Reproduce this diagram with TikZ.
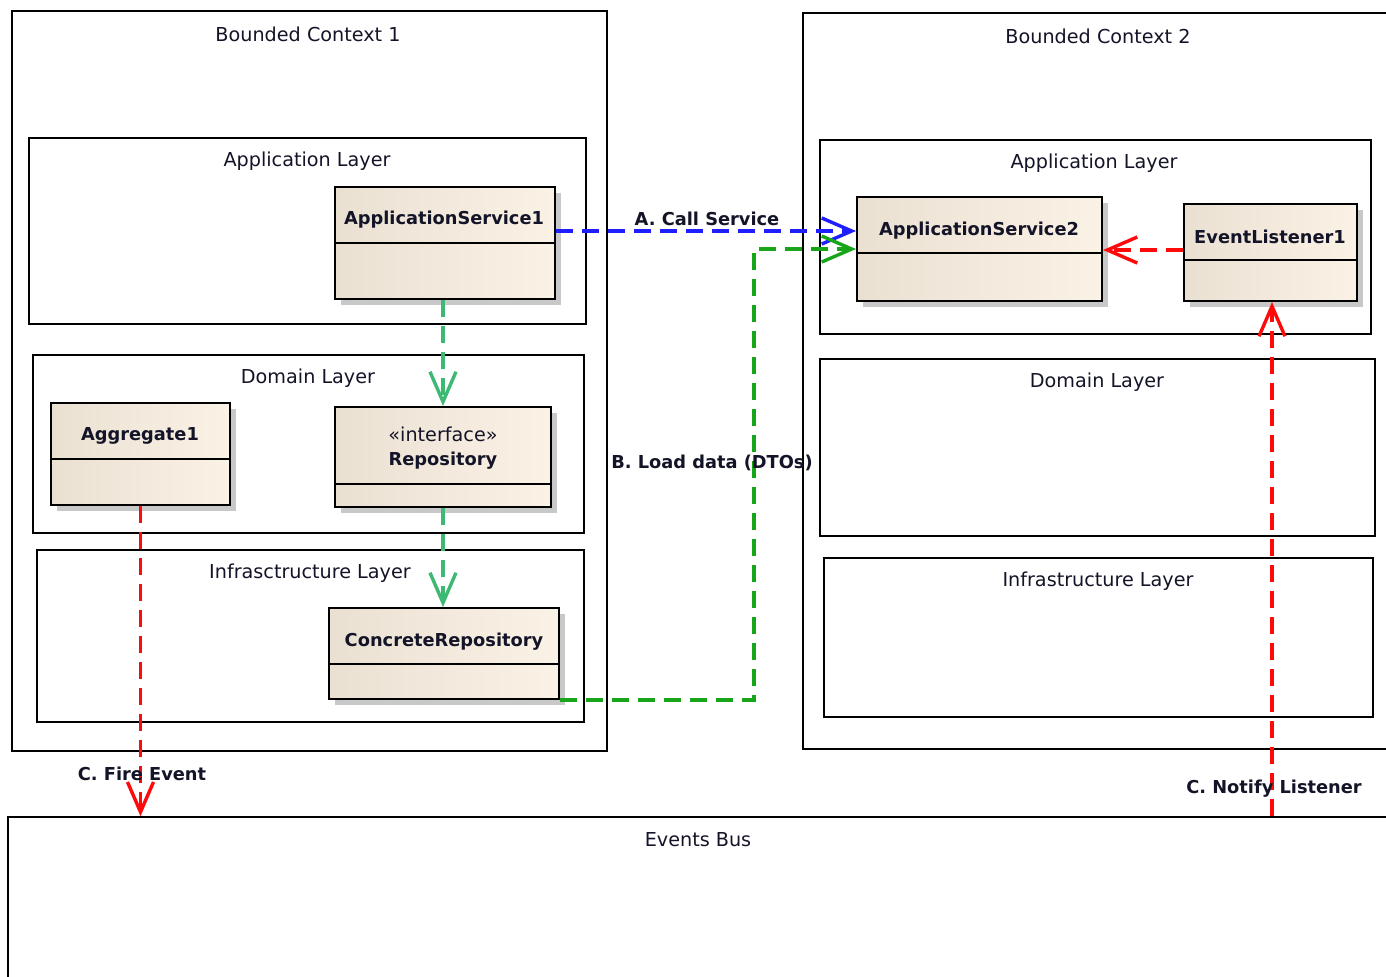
\documentclass[tikz,border=0pt]{standalone}
\usepackage{fontspec}
\setmainfont{DejaVu Sans}
\usetikzlibrary{arrows.meta,fit,shadows}
\definecolor{bluec}{RGB}{30,30,255}
\definecolor{darkg}{RGB}{25,165,25}
\definecolor{lightg}{RGB}{60,185,115}
\definecolor{redc}{RGB}{255,10,10}
\definecolor{boxl}{RGB}{234,224,210}
\definecolor{boxr}{RGB}{251,242,230}
\definecolor{shad}{RGB}{200,200,200}
\definecolor{txt}{RGB}{20,20,40}
\begin{document}
\begin{tikzpicture}[x=0.5pt,y=-0.5pt,
  frame/.style={draw=black, line width=0.75pt, fit={#1}, inner sep=0pt},
  cls/.style={draw=black, line width=1pt, fit={#1}, inner sep=0pt,
    left color=boxl, right color=boxr,
    drop shadow={shadow xshift=3pt,shadow yshift=-3pt,fill=shad,opacity=1}},
  ttl/.style={font=\fontsize{9.6}{11}\selectfont, text=txt, inner sep=0pt, yshift=-1pt},
  bld/.style={font=\bfseries\fontsize{8.9}{11}\selectfont, text=txt, inner sep=0pt, yshift=-1pt},
  dep/.style={line width=1.7pt, dash pattern=on 8.5pt off 4.5pt,
    -{Straight Barb[length=15pt,width=13pt,line width=1.7pt]}}
]
\useasboundingbox (0,0) rectangle (1386,976);
\clip (0,0) rectangle (1386,976);
\fill[white] (0,0) rectangle (1386,976);

% frames
\node[frame={(12,11) (607,751)}] (bc1) {};
\node[frame={(803,13) (1400,749)}] (bc2) {};
\node[frame={(29,138) (586,324)}] (al1) {};
\node[frame={(33,355) (584,533)}] (dl1) {};
\node[frame={(37,550) (584,722)}] (il1) {};
\node[frame={(820,140) (1371,334)}] (al2) {};
\node[frame={(820,359) (1375,536)}] (dl2) {};
\node[frame={(824,558) (1373,717)}] (il2) {};
\node[frame={(8,817) (1400,990)}] (bus) {};

\node[ttl] (tbc1) at (308,32) {Bounded Context 1};
\node[ttl] (tbc2) at (1098,34) {Bounded Context 2};
\node[ttl] (tal1) at (307,159) {Application Layer};
\node[ttl] (tdl1) at (308,376) {Domain Layer};
\node[ttl] (til1) at (310,571) {Infrasctructure Layer};
\node[ttl] (tal2) at (1094,161) {Application Layer};
\node[ttl] (tdl2) at (1097,380) {Domain Layer};
\node[ttl] (til2) at (1098,579) {Infrastructure Layer};
\node[ttl] (tbus) at (698,838) {Events Bus};

% classes
\node[cls={(335,187) (555,299)}] (as1) {};
\draw[line width=1pt] (335,243) -- (555,243);
\node[bld] (tas1) at (444,218) {ApplicationService1};

\node[cls={(857,197) (1102,301)}] (as2) {};
\draw[line width=1pt] (857,253) -- (1102,253);
\node[bld] (tas2) at (979,229) {ApplicationService2};

\node[cls={(1184,204) (1357,301)}] (el) {};
\draw[line width=1pt] (1184,260) -- (1357,260);
\node[bld] (tel) at (1270,235) {EventListener1};

\node[cls={(51,403) (230,505)}] (agg) {};
\draw[line width=1pt] (51,459) -- (230,459);
\node[bld] (tagg) at (140,434) {Aggregate1};

\node[cls={(335,407) (551,507)}] (rep) {};
\draw[line width=1pt] (335,484) -- (551,484);
\node[ttl] (trep0) at (443,432) {«interface»};
\node[bld] (trep) at (443,459) {Repository};

\node[cls={(329,608) (559,699)}] (cr) {};
\draw[line width=1pt] (329,664) -- (559,664);
\node[bld] (tcr) at (444,640) {ConcreteRepository};

% connectors
\coordinate (ya) at (0,231);
\coordinate (yr) at (0,250);
\coordinate (bend) at (754,249);
\coordinate (xg) at (443,0);
\coordinate (xn) at (1272,0);

\draw[dep, draw=bluec] (as1.east |- ya) -- (as2.west |- ya);
\draw[dep, draw=darkg] (cr.south east) -| (bend) -- (as2.west |- bend);
\draw[dep, draw=lightg] (xg |- as1.south) -- (xg |- rep.north);
\draw[dep, draw=lightg] (xg |- rep.south) -- (xg |- cr.north);
\draw[dep, draw=redc] (el.west |- yr) -- (as2.east |- yr);
\draw[dep, draw=redc] (agg.south) -- (agg.south |- bus.north);
\draw[dep, draw=redc] (xn |- bus.north) -- (xn |- el.south);

% labels
\node[bld] (la) at (707,217) {A. Call Service};
\node[bld] (lb) at (712,461) {B. Load data (DTOs)};
\node[bld] (lc) at (142,772) {C. Fire Event};
\node[bld] (ld) at (1274,787) {C. Notify Listener};
\end{tikzpicture}
\end{document}
